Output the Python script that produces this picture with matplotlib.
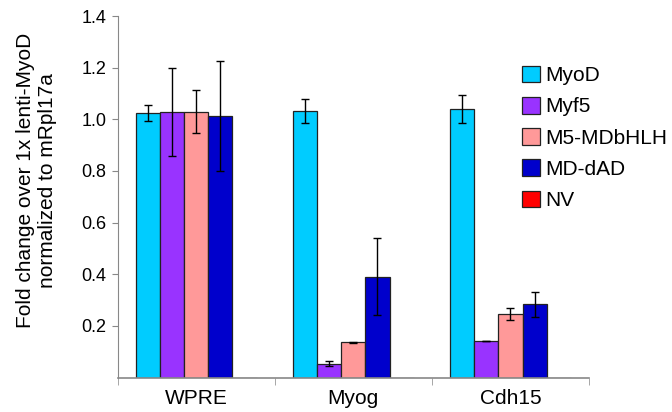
import numpy as np
import matplotlib.pyplot as plt

plt.rcParams['font.family'] = ['Liberation Sans', 'DejaVu Sans']

# Data
genes = ['WPRE', 'Myog', 'Cdh15']
series = ['MyoD', 'Myf5', 'M5-MDbHLH', 'MD-dAD', 'NV']
colors = ['#00CCFF', '#9933FF', '#FF9999', '#0000CC', '#FF0000']

myod = [1.024, 1.033, 1.040]
myf5 = [1.029, 0.053, 0.141]
m5_mdbhlh = [1.030, 0.136, 0.245]
md_dad = [1.012, 0.391, 0.283]
nv = [0.0, 0.0, 0.0]

myod_err = [0.031, 0.047, 0.054]
myf5_err = [0.170, 0.010, 0.0]
m5_mdbhlh_err = [0.083, 0.003, 0.024]
md_dad_err = [0.213, 0.149, 0.050]
nv_err = [0.0, 0.0, 0.0]

values = [myod, myf5, m5_mdbhlh, md_dad, nv]
errors = [myod_err, myf5_err, m5_mdbhlh_err, md_dad_err, nv_err]

fig = plt.figure(figsize=(6.72, 4.12), dpi=100)
ax = fig.add_axes([0.1749, 0.0837, 0.7016, 0.8774])

x = np.arange(len(genes))
n = len(series)
width = 0.154

for i in range(n):
    pos = x + (i - (n - 1) / 2) * width
    yerr = errors[i] if i < 4 else None
    ax.bar(pos, values[i], width, color=colors[i], edgecolor='#222222',
           linewidth=0.9, label=series[i], yerr=yerr,
           error_kw=dict(ecolor='black', elinewidth=1.0, capsize=3, capthick=1.0))

ax.set_xlim(-0.5, 2.5)
ax.set_ylim(0, 1.4)
ax.set_yticks([0.2, 0.4, 0.6, 0.8, 1.0, 1.2, 1.4])
ax.set_yticklabels(['0.2', '0.4', '0.6', '0.8', '1.0', '1.2', '1.4'], fontsize=13)
ax.tick_params(axis='y', direction='out', length=4, color='#888888', pad=4)

ax.set_xticks(x)
ax.set_xticklabels(genes, fontsize=15)
ax.tick_params(axis='x', which='major', length=0, pad=8)
ax.set_xticks([-0.5, 0.5, 1.5, 2.5], minor=True)
ax.tick_params(axis='x', which='minor', direction='out', length=5, color='#999999')

for s in ['top', 'right']:
    ax.spines[s].set_visible(False)
ax.spines['left'].set_color('#888888')
ax.spines['bottom'].set_color('#888888')
ax.spines['bottom'].set_linewidth(1.2)

ax.set_ylabel('Fold change over 1x lenti-MyoD\nnormalized to mRpl17a', fontsize=15,
              linespacing=1.2)
ax.yaxis.set_label_coords(-0.128, 0.545)

fig.legend(loc='upper left', bbox_to_anchor=(0.7768, 0.841), frameon=False,
           fontsize=15, handlelength=0.86, handleheight=0.86, handletextpad=0.25,
           labelspacing=0.56, borderpad=0, borderaxespad=0)

fig.savefig('out.png', dpi=100)
